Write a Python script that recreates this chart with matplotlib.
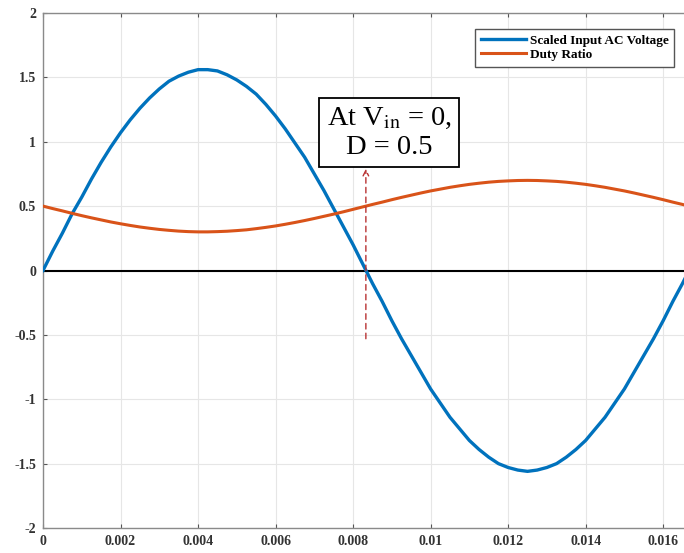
import matplotlib
matplotlib.use("Agg")
import matplotlib.pyplot as plt
from matplotlib.ticker import FuncFormatter

# time samples (s) and values
t = [0.0, 0.00025, 0.0005, 0.00075, 0.001, 0.00125, 0.0015, 0.00175,
     0.002, 0.00225, 0.0025, 0.00275, 0.003, 0.00325, 0.0035, 0.00375,
     0.004, 0.00425, 0.0045, 0.00475, 0.005, 0.00525, 0.0055, 0.00575,
     0.006, 0.00625, 0.0065, 0.00675, 0.007, 0.00725, 0.0075, 0.00775,
     0.008, 0.00825, 0.0085, 0.00875, 0.009, 0.00925, 0.0095, 0.00975,
     0.01, 0.01025, 0.0105, 0.01075, 0.011, 0.01125, 0.0115, 0.01175,
     0.012, 0.01225, 0.0125, 0.01275, 0.013, 0.01325, 0.0135, 0.01375,
     0.014, 0.01425, 0.0145, 0.01475, 0.015, 0.01525, 0.0155, 0.01575,
     0.016, 0.01625, 0.0165, 0.016667]
v_in = [0.00, 0.15, 0.29, 0.44, 0.57, 0.71, 0.84, 0.96,
        1.07, 1.17, 1.26, 1.34, 1.41, 1.47, 1.51, 1.54,
        1.56, 1.56, 1.55, 1.52, 1.48, 1.43, 1.37, 1.29,
        1.20, 1.10, 0.99, 0.88, 0.75, 0.62, 0.48, 0.34,
        0.20, 0.05, -0.10, -0.24, -0.39, -0.53, -0.66, -0.79,
        -0.92, -1.03, -1.14, -1.23, -1.32, -1.39, -1.45, -1.50,
        -1.53, -1.55, -1.56, -1.55, -1.53, -1.50, -1.45, -1.39,
        -1.32, -1.23, -1.14, -1.03, -0.92, -0.79, -0.66, -0.53,
        -0.39, -0.24, -0.10, 0.00]
duty = [0.500, 0.481, 0.463, 0.444, 0.426, 0.409, 0.393, 0.377,
        0.363, 0.350, 0.338, 0.328, 0.319, 0.312, 0.306, 0.302,
        0.300, 0.300, 0.302, 0.305, 0.310, 0.316, 0.325, 0.335,
        0.346, 0.359, 0.373, 0.388, 0.404, 0.421, 0.438, 0.456,
        0.475, 0.494, 0.513, 0.531, 0.550, 0.568, 0.585, 0.602,
        0.618, 0.632, 0.646, 0.658, 0.669, 0.678, 0.686, 0.692,
        0.696, 0.699, 0.700, 0.699, 0.696, 0.692, 0.686, 0.678,
        0.669, 0.658, 0.646, 0.632, 0.618, 0.602, 0.585, 0.568,
        0.550, 0.531, 0.513, 0.500]
x_ticks = [0, 0.002, 0.004, 0.006, 0.008, 0.01, 0.012, 0.014, 0.016]
y_ticks = [-2, -1.5, -1, -0.5, 0, 0.5, 1, 1.5, 2]
labels = ["Scaled Input AC Voltage", "Duty Ratio"]
zero_cross = 0.00833

plt.rcParams["font.family"] = ["Liberation Serif", "DejaVu Serif"]
plt.rcParams["mathtext.fontset"] = "stix"

fig = plt.figure(figsize=(6.84, 5.53), dpi=100)
fig.patch.set_facecolor("white")
ax = fig.add_axes([43 / 684, 25 / 553, 646 / 684, 515 / 553])

ax.plot(t, v_in, color="#0072BD", lw=2.4, label=labels[0], zorder=3)
ax.plot(t, duty, color="#D95319", lw=2.2, label=labels[1], zorder=3)
ax.axhline(0, color="black", lw=1.5, zorder=2)

ax.set_xlim(0, 1 / 60)
ax.set_ylim(-2, 2)
ax.set_xticks(x_ticks)
ax.set_yticks(y_ticks)
ax.xaxis.set_major_formatter(FuncFormatter(lambda v, p: f"{v:g}"))
ax.yaxis.set_major_formatter(FuncFormatter(lambda v, p: f"{v:g}"))
ax.tick_params(direction="in", length=3, width=0.8, color="#555555",
               labelsize=10, top=True, right=True, pad=5)
for lab in ax.get_xticklabels() + ax.get_yticklabels():
    lab.set_fontweight("bold")
    lab.set_color("#333333")
ax.grid(True, color="#e6e6e6", lw=0.8)
ax.set_axisbelow(True)
for s in ax.spines.values():
    s.set_color("#8a8a8a")
    s.set_linewidth(1.0)

# annotation: dashed arrow from below the zero crossing up to the text box
ax.annotate("", xy=(zero_cross, 0.79), xytext=(zero_cross, -0.53),
            arrowprops=dict(arrowstyle="->", color="#b83232", lw=1.0,
                            linestyle=(0, (4, 3)), shrinkA=0, shrinkB=0),
            zorder=4)
ax.text(0.00893, 1.07, "At V$_{\\mathrm{in}}$ = 0,\nD = 0.5", fontsize=20.5,
        ha="center", va="center", linespacing=1.2, zorder=5,
        bbox=dict(boxstyle="square,pad=0.27", fc="white", ec="black", lw=1.3))

leg = ax.legend(loc="upper right", bbox_to_anchor=(681 / 684, 1 - 22 / 553),
                bbox_transform=fig.transFigure, fontsize=9.5, handlelength=3.4,
                handletextpad=0.3, borderpad=0.45, labelspacing=0.15,
                fancybox=False, edgecolor="#555555", framealpha=1)
for txt in leg.get_texts():
    txt.set_fontweight("bold")

fig.savefig("out.png", dpi=100, facecolor="white")
